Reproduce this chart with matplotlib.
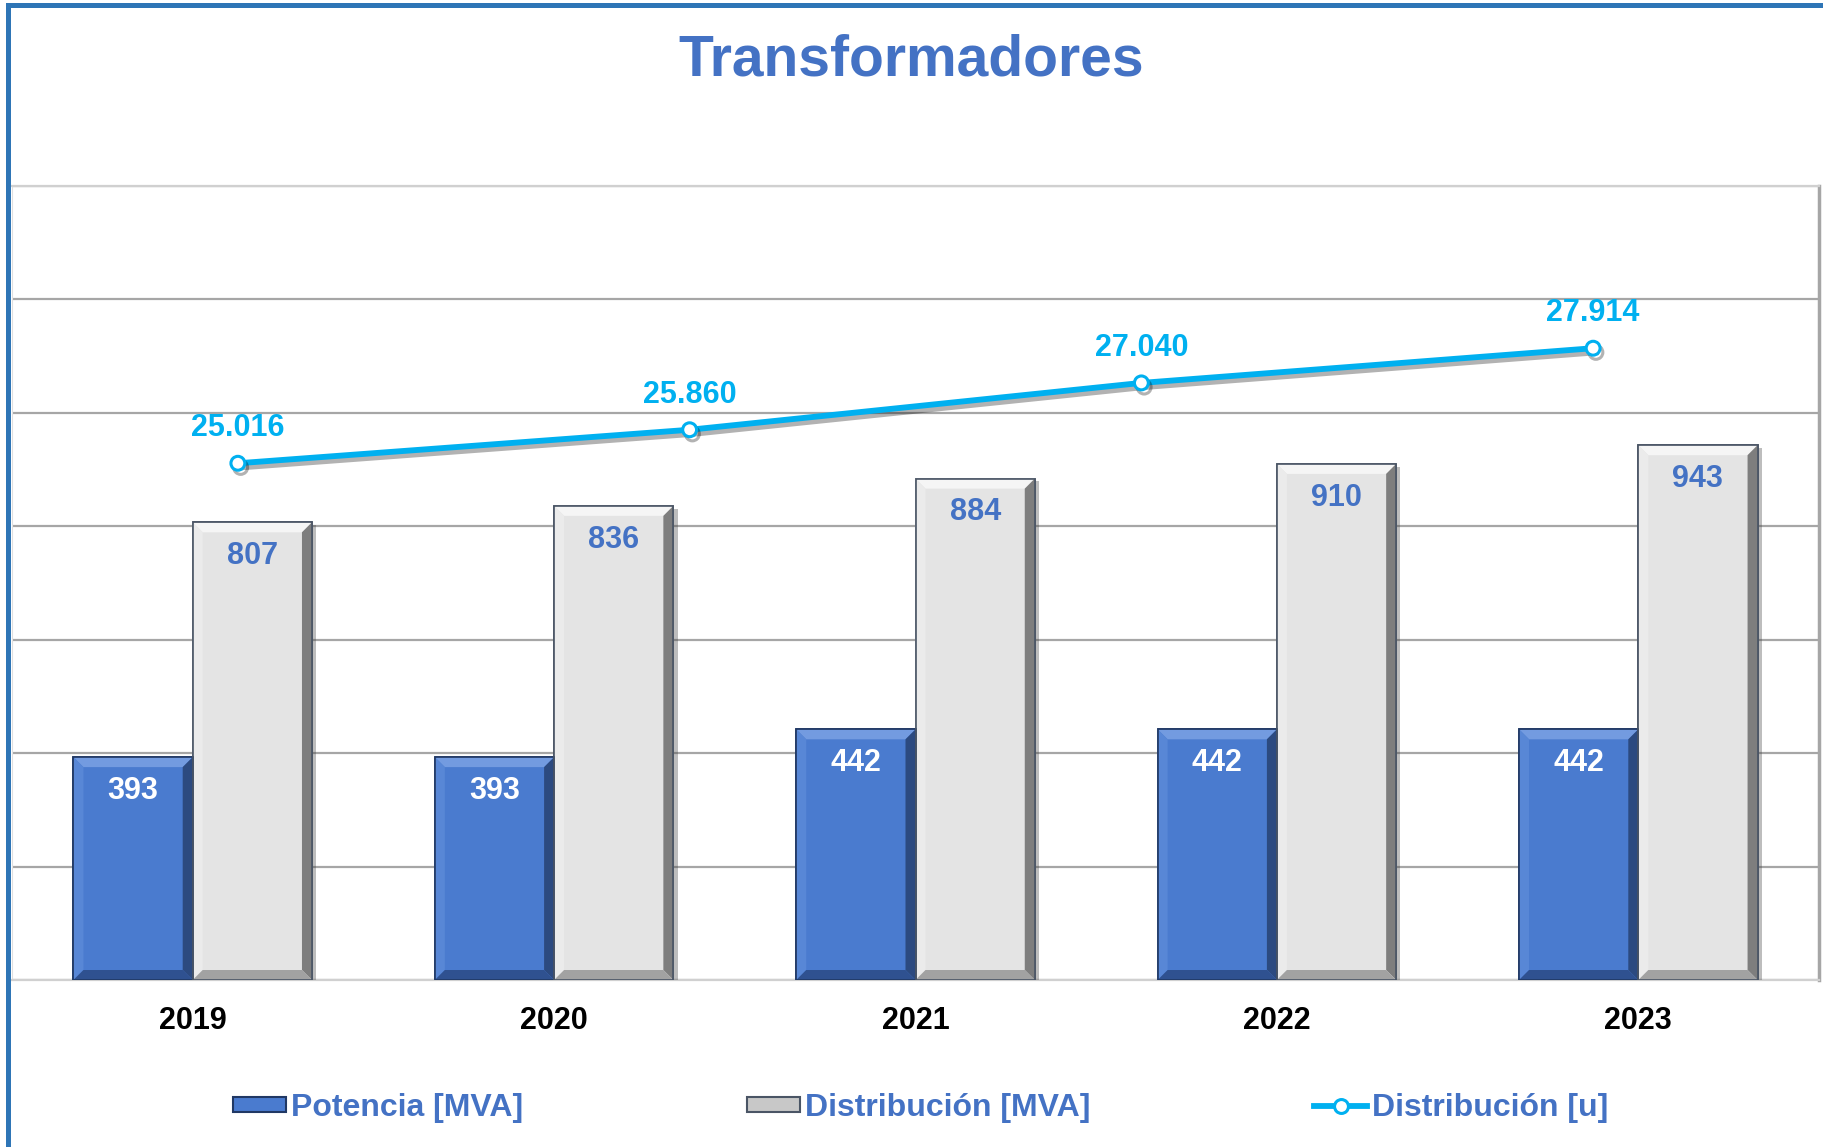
import matplotlib
matplotlib.use("Agg")
import matplotlib.pyplot as plt
import matplotlib.patheffects as pe
from matplotlib.patches import Polygon, Rectangle, Patch
from matplotlib.lines import Line2D
import numpy as np

years = ['2019', '2020', '2021', '2022', '2023']
potencia_mva = [393, 393, 442, 442, 442]
distribucion_mva = [807, 836, 884, 910, 943]
distribucion_u = [25016, 25860, 27040, 27914]

BLUE = '#4A7BCF'
GREY = '#E4E4E4'
CYAN = '#00B0F0'
TXT_BLUE = '#4472C4'
W, H = 1823, 1147

plt.rcParams['font.family'] = ['Liberation Sans', 'DejaVu Sans']

fig = plt.figure(figsize=(W / 100, H / 100), dpi=100)
pos = [12 / W, 1 - 980 / H, (1819 - 12) / W, (980 - 186) / H]
ax = fig.add_axes(pos)
ax.set_xlim(-0.5, len(years) - 0.5)
ax.set_ylim(0, 1400)
ax.set_yticks(np.arange(0, 1401, 200))
ax.yaxis.grid(True, color='#A6A6A6', lw=1.6, zorder=0)
ax.set_axisbelow(True)
ax.tick_params(axis='y', left=False, labelleft=False)
ax.tick_params(axis='x', length=0, pad=19)
for s in ['top', 'bottom']:
    ax.spines[s].set_color('#D0D0D0')
    ax.spines[s].set_linewidth(1.6)
ax.spines['left'].set_color('#E0E0E0')
ax.spines['right'].set_color('#A6A6A6')
ax.spines['right'].set_linewidth(2.5)

x = np.arange(len(years))
bw = 0.33
shadow = [pe.SimplePatchShadow(offset=(3, -2), alpha=0.35), pe.Normal()]
b1 = ax.bar(x - bw / 2, potencia_mva, bw, color=BLUE, edgecolor='#203864', lw=1.2,
            zorder=3, path_effects=shadow)
b2 = ax.bar(x + bw / 2, distribucion_mva, bw, color=GREY, edgecolor='#4A5565', lw=1.2,
            zorder=3, path_effects=shadow)
ax.set_xticks(x)
ax.set_xticklabels(years, fontsize=22, fontweight='bold', color='black')


def bevel(bars, top_c, left_c, right_c, bot_c, px=10):
    inv = ax.transData.inverted()
    p0 = inv.transform((0, 0))
    p1 = inv.transform((px, px))
    dx, dy = p1[0] - p0[0], p1[1] - p0[1]
    for b in bars:
        bx, bwid, bh = b.get_x(), b.get_width(), b.get_height()
        xr = bx + bwid
        faces = [
            ([(bx, bh), (xr, bh), (xr - dx, bh - dy), (bx + dx, bh - dy)], top_c),
            ([(bx, bh), (bx + dx, bh - dy), (bx + dx, dy), (bx, 0)], left_c),
            ([(xr, bh), (xr, 0), (xr - dx, dy), (xr - dx, bh - dy)], right_c),
            ([(bx, 0), (xr, 0), (xr - dx, dy), (bx + dx, dy)], bot_c),
        ]
        for pts, c in faces:
            ax.add_patch(Polygon(pts, closed=True, facecolor=c, edgecolor='none', zorder=3.5))
        ax.add_patch(Rectangle((bx, 0), bwid, bh, fill=False, edgecolor=b.get_edgecolor(),
                               lw=1.2, zorder=3.6))


bevel(b1, '#739BE0', '#5887D6', '#2C4A80', '#2F5190')
bevel(b2, '#F5F5F5', '#EBEBEB', '#7E7E7E', '#A2A2A2')

for xi, v in zip(x, potencia_mva):
    ax.annotate(str(v), (xi - bw / 2, v), xytext=(0, -13.5), textcoords='offset points',
                ha='center', va='top', fontsize=22, fontweight='bold', color='white', zorder=5)
for xi, v in zip(x, distribucion_mva):
    ax.annotate(str(v), (xi + bw / 2, v), xytext=(0, -13.5), textcoords='offset points',
                ha='center', va='top', fontsize=22, fontweight='bold', color=TXT_BLUE, zorder=5)

# line series sits on its own category axis (4 points)
ax2 = fig.add_axes(pos, zorder=2)
ax2.patch.set_visible(False)
ax2.axis('off')
xl = np.arange(len(distribucion_u))
ax2.set_xlim(-0.5, len(distribucion_u) - 0.5)
ax2.set_ylim(12000, 32000)
ax2.plot(xl, distribucion_u, color=CYAN, lw=4.2, marker='o', markersize=10,
         markerfacecolor='white', markeredgecolor=CYAN, markeredgewidth=2.2,
         path_effects=[pe.SimpleLineShadow(offset=(2, -3), alpha=0.3), pe.Normal()])
for xi, v in zip(xl, distribucion_u):
    ax2.annotate(f'{v:,}'.replace(',', '.'), (xi, v), xytext=(0, 19.5), textcoords='offset points',
                 ha='center', va='baseline', fontsize=22, fontweight='bold', color=CYAN)

fig.text(911 / W, 1 - 60 / H, 'Transformadores', ha='center', va='center',
         fontsize=41, fontweight='bold', color=TXT_BLUE)

handles = [
    Patch(facecolor=BLUE, edgecolor='#203864', lw=1.5),
    Patch(facecolor='#C8C8C8', edgecolor='#4A5565', lw=1.5),
    Line2D([], [], color=CYAN, lw=4.2, marker='o', markersize=10,
           markerfacecolor='white', markeredgecolor=CYAN, markeredgewidth=2.2),
]
labels = ['Potencia [MVA]', 'Distribución [MVA]', 'Distribución [u]']
leg = fig.legend(handles, labels, loc='center', bbox_to_anchor=(921 / W, 1 - 1108 / H),
                 ncol=3, frameon=False, handlelength=1.66, handleheight=0.35,
                 handletextpad=0.16, columnspacing=7.0, borderpad=0,
                 prop={'weight': 'bold', 'size': 23})
for t in leg.get_texts():
    t.set_color(TXT_BLUE)

fig.add_artist(Rectangle((8 / W, -0.1), 1.2, 1.1 - 5.5 / H, transform=fig.transFigure,
                         fill=False, edgecolor='#2E75B6', lw=3.6))

fig.savefig('out.png', dpi=100)
